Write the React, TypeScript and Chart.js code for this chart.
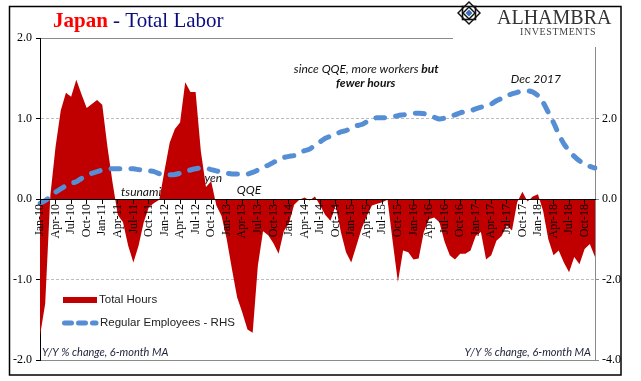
import React, { useEffect, useRef } from 'react';
import { Chart, registerables } from 'chart.js';

Chart.register(...registerables);

const MONTHS = ['Jan', 'Feb', 'Mar', 'Apr', 'May', 'Jun', 'Jul', 'Aug', 'Sep', 'Oct', 'Nov', 'Dec'];
const YEARS = ['10', '11', '12', '13', '14', '15', '16', '17', '18'];
const LABELS = YEARS.flatMap((y) => MONTHS.map((m) => `${m}-${y}`));

// Total Hours, Y/Y % change, 6-month MA (left axis)
const TOTAL_HOURS = [
  -1.70, -1.30, 0.05, 0.65, 1.10, 1.32, 1.27, 1.48, 1.30, 1.13, 1.18, 1.23,
  1.17, 0.65, 0.20, -0.20, -0.29, -0.58, -0.79, -0.58, -0.29, -0.10, -0.05, -0.01,
  0.35, 0.70, 0.87, 0.95, 1.45, 1.33, 1.33, 0.60, 0.15, 0.22, -0.08, -0.21,
  -0.50, -0.87, -1.22, -1.41, -1.62, -1.66, -0.83, -0.40, -0.45, -0.55, -0.68, -0.40,
  -0.30, -0.07, -0.01, 0.02, -0.02, 0.03, -0.08, -0.20, -0.27, -0.08, -0.41, -0.66,
  -0.79, -0.58, -0.37, -0.21, -0.08, -0.06, -0.04, -0.01, -0.53, -1.03, -0.64, -0.66,
  -0.75, -0.74, -0.41, -0.25, -0.23, -0.29, -0.53, -0.70, -0.75, -0.68, -0.68, -0.64,
  -0.46, -0.41, -0.75, -0.70, -0.52, -0.46, -0.33, -0.39, -0.04, 0.09, -0.03, 0.03,
  0.06, -0.15, -0.50, -0.70, -0.64, -0.79, -0.91, -0.72, -0.81, -0.62, -0.56, -0.72,
];

// Regular Employees, Y/Y % change, 6-month MA (right axis)
const REGULAR_EMPLOYEES = [
  -0.11, -0.04, 0.06, 0.17, 0.25, 0.33, 0.39, 0.43, 0.51, 0.58, 0.64, 0.68,
  0.72, 0.75, 0.75, 0.75, 0.75, 0.75, 0.75, 0.73, 0.71, 0.70, 0.68, 0.63,
  0.60, 0.60, 0.61, 0.64, 0.68, 0.72, 0.75, 0.77, 0.77, 0.73, 0.70, 0.66,
  0.64, 0.62, 0.62, 0.61, 0.62, 0.66, 0.72, 0.79, 0.84, 0.91, 0.97, 1.03,
  1.06, 1.08, 1.14, 1.20, 1.24, 1.34, 1.42, 1.51, 1.56, 1.61, 1.67, 1.70,
  1.76, 1.82, 1.85, 1.92, 1.99, 2.02, 2.02, 2.02, 2.04, 2.07, 2.09, 2.11,
  2.13, 2.13, 2.12, 2.07, 2.03, 1.99, 2.01, 2.06, 2.09, 2.14, 2.17, 2.19,
  2.24, 2.28, 2.32, 2.36, 2.44, 2.50, 2.57, 2.61, 2.65, 2.68, 2.69, 2.66,
  2.57, 2.40, 2.15, 1.90, 1.61, 1.37, 1.20, 1.06, 0.95, 0.87, 0.81, 0.77,
];

const LEFT_TICKS = [-2, -1, 0, 1, 2];
const RIGHT_TICKS = [-4, -2, 0, 2];

const RED = 'rgb(192,0,0)';
const BLUE = 'rgb(85,142,213)';
const SERIF = '"Liberation Serif", "Times New Roman", serif';
const SANS = '"Liberation Sans", Arial, sans-serif';
const ITAL = 'Lato, "Open Sans", sans-serif';

const overlayPlugin = {
  id: 'overlay',
  afterDraw(chart: any) {
    const ctx: CanvasRenderingContext2D = chart.ctx;
    const xs = chart.scales.x;
    const ys = chart.scales.y;
    const px = (i: number) => xs.getPixelForValue(i);
    const py = (v: number) => ys.getPixelForValue(v);
    ctx.save();

    // white area behind logo
    ctx.fillStyle = '#fff';
    ctx.fillRect(453, 7, 167, 40);

    // outer border
    ctx.strokeStyle = '#000';
    ctx.lineWidth = 1.5;
    ctx.strokeRect(9.5, 6.5, 611.5, 368.5);

    // title
    ctx.textBaseline = 'alphabetic';
    ctx.textAlign = 'left';
    ctx.font = `bold 21px ${SERIF}`;
    ctx.fillStyle = '#ff0000';
    ctx.fillText('Japan', 53, 27);
    const jw = ctx.measureText('Japan').width;
    ctx.font = `21px ${SERIF}`;
    ctx.fillStyle = '#0c0c80';
    ctx.fillText(' - Total Labor', 53 + jw, 27);

    // logo diamond
    const cx = 469, cy = 13;
    const dia = (r: number, color: string) => {
      ctx.beginPath();
      ctx.moveTo(cx, cy - r);
      ctx.lineTo(cx + r, cy);
      ctx.lineTo(cx, cy + r);
      ctx.lineTo(cx - r, cy);
      ctx.closePath();
      ctx.fillStyle = color;
      ctx.fill();
    };
    dia(12, '#111');
    dia(10, '#fff');
    ctx.strokeStyle = '#111';
    ctx.lineWidth = 1.6;
    ctx.strokeRect(cx - 6.5, cy - 6.5, 13, 13);
    dia(7, '#111');
    dia(5, '#fff');
    dia(3.5, '#3a6fc0');

    // logo text
    ctx.fillStyle = '#333';
    ctx.font = `20px ${SERIF}`;
    ctx.fillText('ALHAMBRA', 497, 24);
    ctx.font = `10px ${SERIF}`;
    ctx.fillStyle = '#444';
    (ctx as any).letterSpacing = '0.6px';
    ctx.fillText('INVESTMENTS', 520, 35);
    (ctx as any).letterSpacing = '0px';

    // annotations
    ctx.fillStyle = '#111';
    ctx.textBaseline = 'middle';
    ctx.textAlign = 'center';
    ctx.font = `italic 12px ${ITAL}`;
    ctx.fillText('tsunami', px(19.5), py(0.09));
    ctx.fillText('yen', px(33.4), py(0.26));
    ctx.fillText('QQE', px(40.3), py(0.11));
    ctx.fillText('Dec 2017', px(95.6), py(1.49));

    const part1 = 'since QQE, more workers ';
    const part2 = 'but';
    ctx.textAlign = 'left';
    ctx.font = `italic 12px ${ITAL}`;
    const w1 = ctx.measureText(part1).width;
    ctx.font = `italic bold 12px ${ITAL}`;
    const w2 = ctx.measureText(part2).width;
    const sx = px(62.9) - (w1 + w2) / 2;
    ctx.font = `italic 12px ${ITAL}`;
    ctx.fillText(part1, sx, py(1.615));
    ctx.font = `italic bold 12px ${ITAL}`;
    ctx.fillText(part2, sx + w1, py(1.615));
    ctx.textAlign = 'center';
    ctx.fillText('fewer hours', px(62.8), py(1.44));

    // legend
    ctx.fillStyle = RED;
    ctx.fillRect(63, 297, 34, 6);
    ctx.strokeStyle = BLUE;
    ctx.lineWidth = 5;
    ctx.lineCap = 'round';
    ctx.setLineDash([7, 7]);
    ctx.beginPath();
    ctx.moveTo(64.5, 323);
    ctx.lineTo(96, 323);
    ctx.stroke();
    ctx.setLineDash([]);
    ctx.textAlign = 'left';
    ctx.font = `11.5px ${SANS}`;
    ctx.fillStyle = '#222';
    ctx.fillText('Total Hours', 99, 300);
    ctx.fillText('Regular Employees - RHS', 100, 323);

    // axis notes
    ctx.font = `italic 11px ${ITAL}`;
    ctx.fillStyle = '#1c2238';
    ctx.textBaseline = 'alphabetic';
    ctx.fillText('Y/Y % change, 6-month MA', 42, 356);
    ctx.textAlign = 'right';
    ctx.fillText('Y/Y % change, 6-month MA', 591, 356);

    ctx.restore();
  },
};

export default function App() {
  const ref = useRef<HTMLCanvasElement | null>(null);

  useEffect(() => {
    if (!ref.current) return;
    const chart = new Chart(ref.current, {
      type: 'line',
      data: {
        labels: LABELS,
        datasets: [
          {
            label: 'Regular Employees - RHS',
            data: REGULAR_EMPLOYEES,
            yAxisID: 'y1',
            borderColor: BLUE,
            borderWidth: 5,
            borderDash: [9, 11],
            borderCapStyle: 'round',
            pointRadius: 0,
            fill: false,
            tension: 0.25,
            order: 0,
          },
          {
            label: 'Total Hours',
            data: TOTAL_HOURS,
            yAxisID: 'y',
            borderWidth: 0,
            borderColor: RED,
            backgroundColor: RED,
            pointRadius: 0,
            fill: 'origin',
            tension: 0,
            order: 1,
          },
        ],
      },
      options: {
        animation: false,
        responsive: true,
        maintainAspectRatio: false,
        layout: { padding: { left: 9, right: 20, top: 38, bottom: 21 } },
        plugins: {
          legend: { display: false },
          tooltip: { enabled: false },
          title: { display: false },
        },
        scales: {
          x: {
            type: 'category',
            position: { y: 0 } as any,
            offset: false,
            grid: {
              display: true,
              drawOnChartArea: false,
              drawTicks: true,
              tickLength: 4,
              color: '#000',
              tickColor: '#000',
              z: 1,
            },
            border: { display: true, color: '#000', width: 1, z: 1 },
            ticks: {
              autoSkip: false,
              maxRotation: 90,
              minRotation: 90,
              padding: 1,
              color: '#000',
              font: { family: SERIF, size: 12 },
              z: 1,
            },
            afterBuildTicks: (scale: any) => {
              scale.ticks = scale.ticks.filter((t: any) => t.value % 3 === 0);
            },
          },
          y: {
            type: 'linear',
            position: 'left',
            min: -2,
            max: 2,
            afterBuildTicks: (scale: any) => {
              scale.ticks = LEFT_TICKS.map((v) => ({ value: v }));
            },
            afterFit: (scale: any) => {
              scale.width = 31;
            },
            ticks: {
              padding: 4,
              color: '#000',
              font: { family: SERIF, size: 12 },
              callback: (v: any) => Number(v).toFixed(1),
            },
            grid: {
              color: (c: any) => {
                const v = c.tick ? c.tick.value : 0;
                if (v === 0) return 'rgba(0,0,0,0)';
                return Math.abs(v) === 1 ? '#bdbdbd' : '#8a8a8a';
              },
              tickColor: '#000',
              tickLength: 4,
              lineWidth: 1,
            },
            border: {
              display: true,
              color: '#000',
              width: 1,
              dash: (c: any) => (c.tick && Math.abs(c.tick.value) === 1 ? [3, 2] : []),
            },
          },
          y1: {
            type: 'linear',
            position: 'right',
            min: -4,
            max: 4,
            afterBuildTicks: (scale: any) => {
              scale.ticks = RIGHT_TICKS.map((v) => ({ value: v }));
            },
            afterFit: (scale: any) => {
              scale.width = 26;
            },
            ticks: {
              padding: 3,
              color: '#000',
              font: { family: SERIF, size: 12 },
              callback: (v: any) => Number(v).toFixed(1),
            },
            grid: {
              drawOnChartArea: false,
              tickLength: 4,
              tickColor: '#8a8a8a',
              color: '#8a8a8a',
            },
            border: { display: true, color: '#8a8a8a', width: 1 },
          },
        },
      },
      plugins: [overlayPlugin],
    } as any);
    return () => chart.destroy();
  }, []);

  return (
    <div style={{ position: 'absolute', left: 0, top: 0, width: 641, height: 381, background: '#fff' }}>
      <canvas ref={ref} />
    </div>
  );
}
